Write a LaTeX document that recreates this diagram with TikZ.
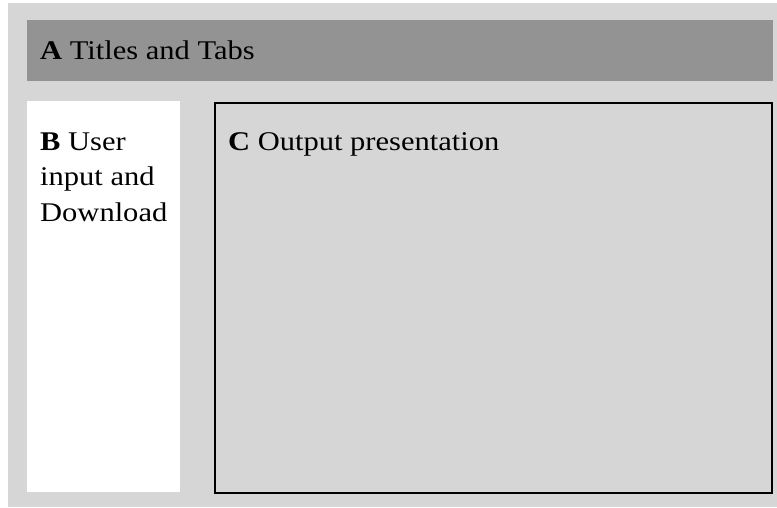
\documentclass[tikz,border=0pt]{standalone}
\usepackage{fontspec}
\setmainfont[FakeStretch=1.13]{Liberation Serif}
\definecolor{bggray}{HTML}{D6D6D6}
\definecolor{bargray}{HTML}{939393}
\begin{document}
\begin{tikzpicture}[x=1pt,y=-1pt,
  lbl/.style={anchor=base west,inner sep=0pt,font=\fontsize{27}{35.5}\selectfont,text=black,align=left}]
\useasboundingbox (0,0) rectangle (777,507);
\fill[white] (0,0) rectangle (777,507);
\fill[bggray] (8,3) rectangle (777,507);
\fill[bargray] (27,20) rectangle (773,81);
\fill[white] (27,101) rectangle (180,492);
\filldraw[fill=bggray,draw=black,line width=2pt] (215,103) rectangle (772,493);
\node[lbl] (ta) at (40,59) {\textbf{A} Titles and Tabs};
\node[lbl] (tb) at (40,221) {\textbf{B} User\\input and\\Download};
\node[lbl] (tc) at (228,150) {\textbf{C} Output presentation};
\end{tikzpicture}
\end{document}
